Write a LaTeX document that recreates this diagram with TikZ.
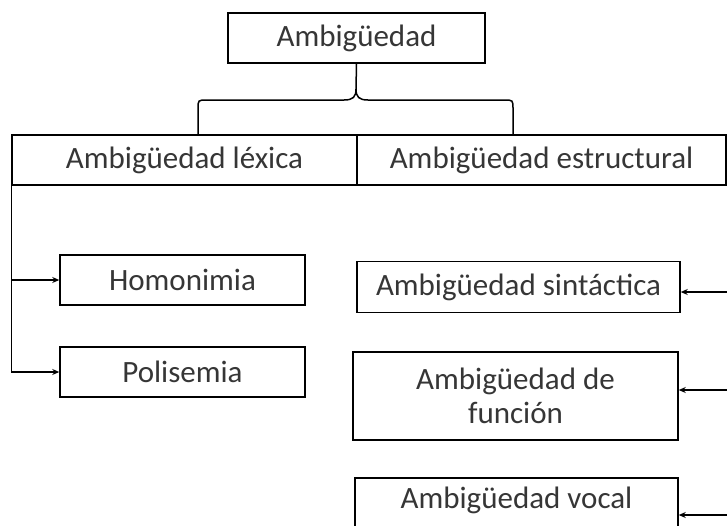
\documentclass[tikz,border=0pt]{standalone}
\usepackage{fontspec}
\setmainfont{Carlito}
\usetikzlibrary{arrows.meta}
\definecolor{txt}{HTML}{363636}
\begin{document}
\begin{tikzpicture}[x=1pt,y=-1pt,
  box/.style={draw=black,line width=1.5pt,inner sep=0pt,text=txt,font=\fontsize{31}{34}\selectfont,align=center},
  conn/.style={line width=1.5pt,-{Stealth[length=7pt,width=6pt]}},
  brace/.style={line width=1.5pt}]
\useasboundingbox (0,0) rectangle (727,525);
\clip (0,0) rectangle (727,525);
\node[box,minimum width=257pt,minimum height=50pt] (top) at (356.5,38) {Ambigüedad};
\node[box,minimum width=345pt,minimum height=50pt] (lex) at (184.5,160) {Ambigüedad léxica};
\node[box,minimum width=369pt,minimum height=50pt] (est) at (541.5,160) {Ambigüedad estructural};
\node[box,minimum width=245pt,minimum height=50pt] (hom) at (182.5,280) {Homonimia};
\node[box,minimum width=245pt,minimum height=50pt] (pol) at (182.5,372) {Polisemia};
\node[box,minimum width=323pt,minimum height=51pt] (sin) at (518.5,287) {Ambigüedad sintáctica};
\node[box,minimum width=325pt,minimum height=88pt] (fun) at (515.5,396) {Ambigüedad de\\función};
\node[box,minimum width=323pt,text height=30pt,text depth=34pt,anchor=base] (voc) at (516.5,508) {Ambigüedad vocal};
% brace
\coordinate (bl) at (198,135);
\coordinate (br) at (513,135);
\coordinate (bm) at (356,89);
\draw[brace] (bl) -- (198,109) .. controls (198,100) .. (207,100) -- (344,100)
  .. controls (353,100) and (356,97) .. (bm) -- (top.south);
\draw[brace] (br) -- (513,109) .. controls (513,100) .. (504,100) -- (368,100)
  .. controls (359,100) and (356,97) .. (bm);
% left connectors
\draw[line width=1.5pt] (lex.south west) -- (lex.south west |- pol.west);
\draw[conn] (lex.south west |- hom.west) -- (hom.west);
\draw[conn] (lex.south west |- pol.west) -- (pol.west);
% right connectors
\coordinate (r1) at (727,292);
\coordinate (r2) at (727,390);
\coordinate (r3) at (727,515);
\draw[conn] (r1) -- (r1 -| sin.east);
\draw[conn] (r2) -- (r2 -| fun.east);
\draw[conn] (r3) -- (r3 -| voc.east);
\end{tikzpicture}
\end{document}
